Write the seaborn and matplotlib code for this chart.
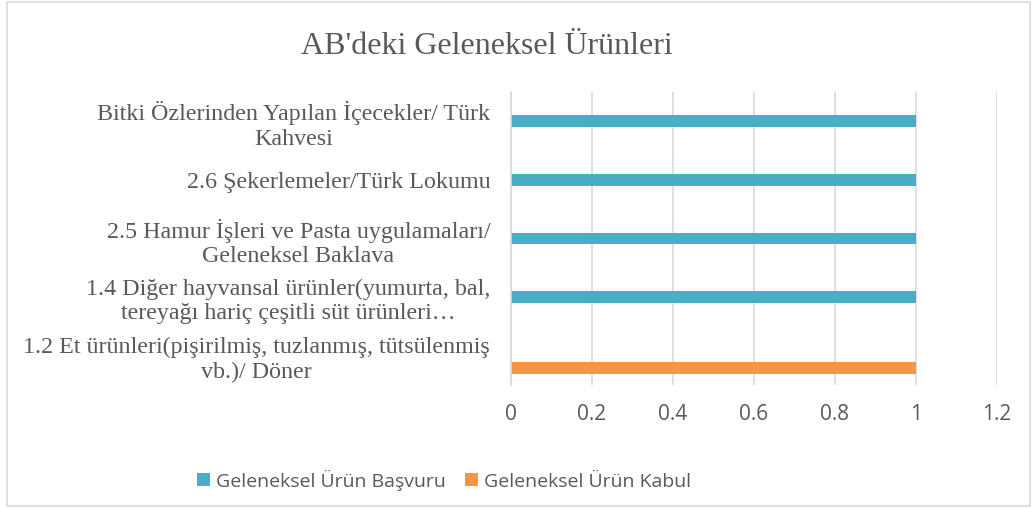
import matplotlib
matplotlib.use("Agg")
import matplotlib.pyplot as plt
import seaborn as sns
import pandas as pd
from matplotlib.patches import Patch, Rectangle

# ---- data ----
categories = [
    "Bitki Özlerinden Yapılan İçecekler/ Türk\nKahvesi",
    "2.6 Şekerlemeler/Türk Lokumu",
    "2.5 Hamur İşleri ve Pasta uygulamaları/\nGeleneksel Baklava",
    "1.4 Diğer hayvansal ürünler(yumurta, bal,\ntereyağı hariç çeşitli süt ürünleri…",
    "1.2 Et ürünleri(pişirilmiş, tuzlanmış, tütsülenmiş\nvb.)/ Döner",
]
basvuru = [1, 1, 1, 1, 0]
kabul = [0, 0, 0, 0, 1]
series_names = ["Geleneksel Ürün Başvuru", "Geleneksel Ürün Kabul"]
x_ticks = [0, 0.2, 0.4, 0.6, 0.8, 1, 1.2]
x_tick_labels = ["0", "0.2", "0.4", "0.6", "0.8", "1", "1.2"]
title = "AB'deki Geleneksel Ürünleri"

colors = {series_names[0]: "#4BACC6", series_names[1]: "#F79646", " ": "#FFFFFF"}
text_gray = "#595959"
grid_gray = "#D9D9D9"

df = pd.DataFrame({
    "Kategori": categories * 2,
    "Seri": [series_names[0]] * len(categories) + [series_names[1]] * len(categories),
    "Değer": basvuru + kabul,
})

sns.set_theme(style="white")
W, H = 1032, 508
fig = plt.figure(figsize=(W / 100, H / 100), dpi=100)
ax = fig.add_axes([511 / W, 1 - 385 / H, (996.7 - 511) / W, (385 - 92) / H])

sns.barplot(
    data=df, y="Kategori", x="Değer", hue="Seri",
    hue_order=[" ", series_names[0], series_names[1]],
    order=categories, palette=colors, orient="h",
    width=0.61, dodge=True, legend=False, ax=ax, saturation=1,
    edgecolor="none", linewidth=0,
)

ax.set_xlim(0, 1.2)
ax.set_ylim(len(categories) - 0.5, -0.5)
ax.set_xticks(x_ticks)
ax.set_xticklabels(x_tick_labels, fontsize=15, color=text_gray, family="Open Sans")
ax.set_yticks(range(len(categories)))
ax.set_yticklabels(categories, fontsize=17.3, color=text_gray,
                   family="Liberation Serif", multialignment="center",
                   linespacing=1.2)
ax.set_xlabel("")
ax.set_ylabel("")
ax.tick_params(axis="x", length=0, pad=14)
ax.tick_params(axis="y", length=0, pad=15)

ax.grid(axis="x", color=grid_gray, linewidth=1.2)
ax.grid(axis="y", visible=False)
ax.set_axisbelow(True)
for side in ["top", "right", "bottom"]:
    ax.spines[side].set_visible(False)
ax.spines["left"].set_color(grid_gray)
ax.spines["left"].set_linewidth(1.2)

fig.text(487 / W, 1 - 46 / H, title, ha="center", va="center",
         fontsize=23, color=text_gray, family="Liberation Serif")

handles = [Patch(facecolor=colors[n], edgecolor="none", label=n) for n in series_names]
fig.legend(handles=handles, loc="center", bbox_to_anchor=(444 / W, 1 - 480 / H),
           ncol=2, frameon=False, prop={"family": "Open Sans", "size": 14},
           labelcolor=text_gray, handlelength=0.65, handleheight=0.65,
           handletextpad=0.3, columnspacing=1.0, borderpad=0)

fig.patches.append(Rectangle((7 / W, 2 / H), (1030 - 7) / W, (506 - 2) / H,
                             transform=fig.transFigure, fill=False,
                             edgecolor=grid_gray, linewidth=1.2))

fig.savefig("out.png", dpi=100)
